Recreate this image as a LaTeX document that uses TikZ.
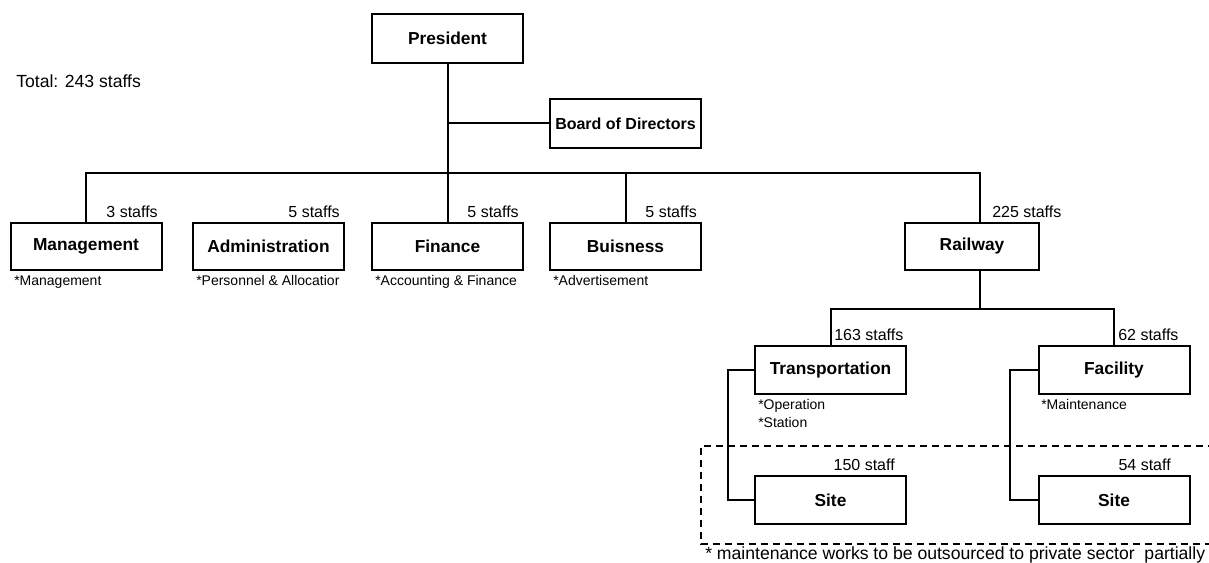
\documentclass[tikz,border=0pt]{standalone}
\usepackage{fontspec}
\setmainfont{Liberation Sans}
\begin{document}
\begin{tikzpicture}[x=0.75pt,y=-0.75pt,
  unit box/.style={draw, line width=1.5pt, fill=white, inner sep=0pt,
    font=\bfseries\fontsize{13}{15}\selectfont,
    minimum width=113.25pt, minimum height=35.5pt},
  conn/.style={line width=1.5pt},
  staff/.style={inner sep=0pt, font=\fontsize{12}{14}\selectfont},
  remark/.style={inner sep=0pt, anchor=base west, font=\fontsize{13.2}{15}\selectfont},
  note/.style={inner sep=0pt, anchor=base west, font=\fontsize{10.5}{12.6}\selectfont},
]
\useasboundingbox (0,0) rectangle (1209,563);

% units
\node[unit box, minimum height=36.75pt] (pres) at (447.5,38.5) {President};
\node[unit box, minimum height=36.75pt, font=\bfseries\fontsize{12}{14}\selectfont] (board) at (625.5,123.5) {Board of Directors};
\node[unit box] (mgmt)  at (86,246.5)    {Management};
\node[unit box] (admin) at (268.5,246.5) {Administration};
\node[unit box] (fin)   at (447.5,246.5) {Finance};
\node[unit box] (bus)   at (625.5,246.5) {Buisness};
\node[unit box, minimum width=100.5pt] (rail) at (972,246.5) {Railway};
\node[unit box, minimum height=36pt] (trans) at (830.5,370) {Transportation};
\node[unit box, minimum height=36pt] (fac)   at (1114,370)  {Facility};
\node[unit box, minimum height=36pt] (site1) at (830.5,500) {Site};
\node[unit box, minimum height=36pt] (site2) at (1114,500)  {Site};

% connectors
\coordinate (bar)  at (0,173);
\coordinate (bar2) at (0,309);
\coordinate (railtop) at ([xshift=6pt]rail.north);
\coordinate (railbot) at ([xshift=6pt]rail.south);
\draw[conn] (pres.south) -- (fin.north);
\draw[conn] (pres.south |- board.west) -- (board.west);
\draw[conn] (mgmt.north) -- (mgmt.north |- bar) -- (railtop |- bar) -- (railtop);
\draw[conn] (bus.north) -- (bus.north |- bar);
\draw[conn] (railbot) -- (railbot |- bar2);
\draw[conn] (trans.north) -- (trans.north |- bar2) -- (fac.north |- bar2) -- (fac.north);
\draw[conn] (trans.west) -- ++(-26,0) |- (site1.west);
\draw[conn] (fac.west) -- ++(-28,0) |- (site2.west);

% outsourced area
\draw[line width=1.5pt, dash pattern=on 5.5pt off 3.5pt]
  (1215,446) -- (701,446) -- (701,544) -- (1215,544);

% staff numbers
\node[remark] (total) at (16,88) {Total: 243 staffs};
\node[staff, anchor=base east] (n-mgmt)  at (158,217.5) {3 staffs};
\node[staff, anchor=base east] (n-admin) at (340,217.5) {5 staffs};
\node[staff, anchor=base east] (n-fin)   at (519,217.5) {5 staffs};
\node[staff, anchor=base east] (n-bus)   at (697,217.5) {5 staffs};
\node[staff, anchor=base west] (n-rail)  at (992,217.5) {225 staffs};
\node[staff, anchor=base west] (n-trans) at (834,340.5) {163 staffs};
\node[staff, anchor=base west] (n-fac)   at (1118,340.5) {62 staffs};
\node[staff, anchor=base east] (n-site1) at (895,470.5) {150 staff};
\node[staff, anchor=base east] (n-site2) at (1171,470.5) {54 staff};

% duties
\node[note] (d-mgmt)  at (14,285)  {*Management};
\node[note] (d-admin) at (196,285) {*Personnel \& Allocatior};
\node[note] (d-fin)   at (375,285) {*Accounting \& Finance};
\node[note] (d-bus)   at (553,285) {*Advertisement};
\node[note] (d-op)    at (758,409) {*Operation};
\node[note] (d-st)    at (758,427) {*Station};
\node[note] (d-fac)   at (1041,409) {*Maintenance};

\node[remark] (foot) at (705,559)
  {* maintenance works to be outsourced to private sector\ \ partially};
\end{tikzpicture}
\end{document}
